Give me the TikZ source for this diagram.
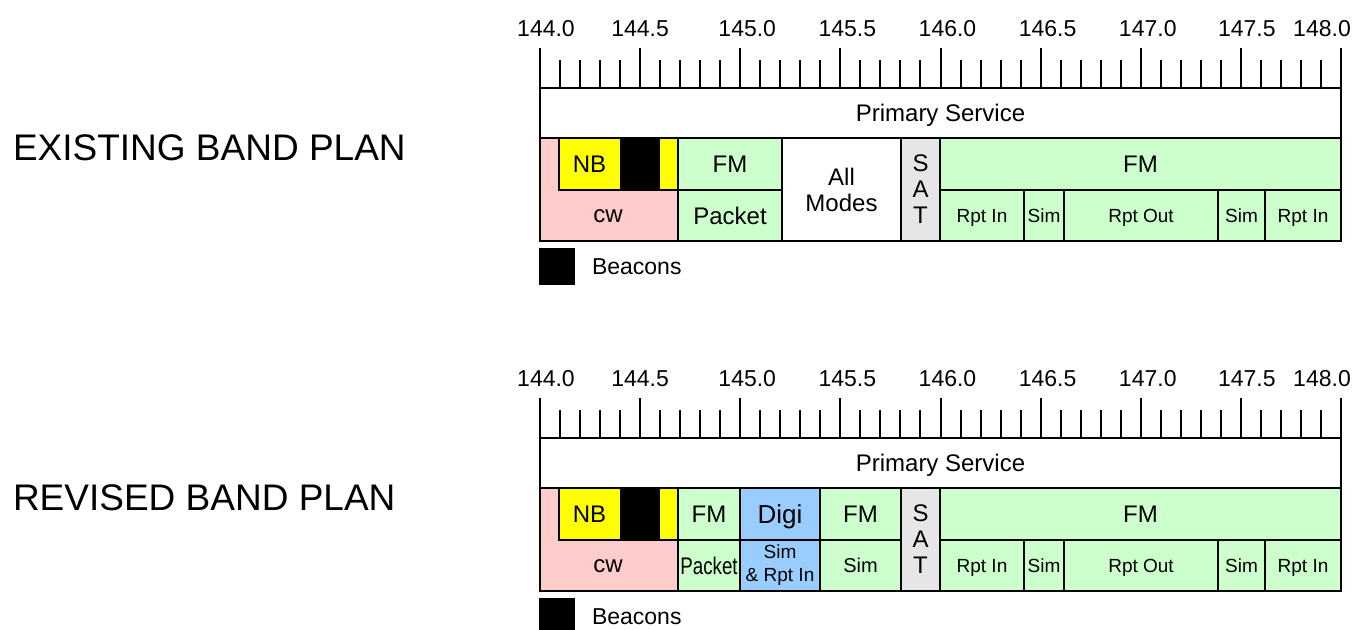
\documentclass[tikz,border=0pt]{standalone}
\usepackage{fontspec}
\setmainfont{Liberation Sans}
\usepackage{graphicx}
\usepackage{tikz}
\usetikzlibrary{calc}

\definecolor{cwpink}{HTML}{FFCCCC}
\definecolor{nbyellow}{HTML}{FFFF00}
\definecolor{fmgreen}{HTML}{CCFFCC}
\definecolor{satgray}{HTML}{E6E6E6}
\definecolor{digiblue}{HTML}{99CCFF}

% one band segment: [label style]{name}{fill}{corner}{corner}{text}
\newcommand{\seg}[6][lbl]{%
  \filldraw[fill=#3] #4 rectangle #5;
  \node[#1] (#2) at ($#4!.5!#5$) {#6};}

\begin{document}
\begin{tikzpicture}[x=0.5pt, y=-0.5pt, line width=1pt,
    lbl/.style={inner sep=0pt, font=\fontsize{12}{13}\selectfont, text height=8.6pt, text depth=0pt},
    sml/.style={lbl, font=\fontsize{9.5}{11.5}\selectfont, text height=6.8pt},
    stack/.style={inner sep=0pt, align=center, font=\fontsize{12}{13}\selectfont},
    title/.style={anchor=west, inner sep=0pt, font=\fontsize{18.5}{20}\selectfont}]
  \useasboundingbox (0,0) rectangle (1368,630);

  \node[title] (exist) at (12,148) {EXISTING BAND PLAN};
  \node[title] (revis) at (12,498) {REVISED BAND PLAN};

  \foreach \yo/\p in {0/e, 350/r} {
    \begin{scope}[shift={(0,\yo)}]
      % frequency ruler
      \foreach \i in {0,...,40}
        \draw (540+20.025*\i,60) -- (540+20.025*\i,88);
      \foreach \k/\f/\dx in {0/144.0/6, 1/144.5/0, 2/145.0/7, 3/145.5/7, 4/146.0/7,
                             5/146.5/7, 6/147.0/7, 7/147.5/6, 8/148.0/-19} {
        \draw (540+100.125*\k,48) -- (540+100.125*\k,88);
        \node[lbl, font=\fontsize{11.5}{13}\selectfont, text height=8.2pt] (f\p\k)
          at ({540+100.125*\k+(\dx)},28) {\f};
      }
      \seg{ps\p}{white}{(540,88)}{(1341,138)}{Primary Service}
      % cw with the narrow band part and beacons
      \filldraw[fill=cwpink] (540,138) rectangle (678,241);
      \node[lbl, text height=6.2pt] (cw\p) at (608,216) {cw};
      \filldraw[fill=nbyellow] (559,138) rectangle (678,190);
      \fill[black] (620,138) rectangle (660,190);
      \node[lbl] (nb\p) at (589.5,164) {NB};
      \seg[stack]{sat\p}{satgray}{(901,138)}{(940,241)}{S\\A\\T}
      \seg{fmr\p}{fmgreen}{(940,138)}{(1341,190)}{FM}
      \seg[sml]{ria\p}{fmgreen}{(940,190)}{(1024,241)}{Rpt In}
      \seg[sml]{sma\p}{fmgreen}{(1024,190)}{(1064,241)}{Sim}
      \seg[sml]{ro\p}{fmgreen}{(1064,190)}{(1218,241)}{Rpt Out}
      \seg[sml]{smb\p}{fmgreen}{(1218,190)}{(1265,241)}{Sim}
      \seg[sml]{rib\p}{fmgreen}{(1265,190)}{(1341,241)}{Rpt In}
      % legend
      \fill[black] (539,248) rectangle (575,285);
      \node[lbl, anchor=west, font=\fontsize{11.5}{13}\selectfont, text height=8.2pt] (bc\p)
        at (591,266) {Beacons};
    \end{scope}
  }

  % existing plan
  \seg{fm1}{fmgreen}{(678,138)}{(782,190)}{FM}
  \seg{pk1}{fmgreen}{(678,190)}{(782,241)}{Packet}
  \seg[stack]{am1}{white}{(782,138)}{(901,241)}{All\\Modes}

  % revised plan
  \begin{scope}[shift={(0,350)}]
    \seg{fm2}{fmgreen}{(678,138)}{(740,190)}{FM}
    \seg{pk2}{fmgreen}{(678,190)}{(740,241)}{\scalebox{0.78}[1]{Packet}}
    \seg[lbl, font=\fontsize{13}{14}\selectfont, text height=9.3pt]{dg2}{digiblue}{(740,138)}{(820,190)}{Digi}
    \seg[stack, font=\fontsize{9.5}{11.5}\selectfont]{sr2}{digiblue}{(740,190)}{(820,241)}{Sim\\\& Rpt In}
    \seg{fmc2}{fmgreen}{(820,138)}{(901,190)}{FM}
    \seg[lbl, font=\fontsize{10}{12}\selectfont, text height=7.2pt]{sm2}{fmgreen}{(820,190)}{(901,241)}{Sim}
  \end{scope}
\end{tikzpicture}
\end{document}
